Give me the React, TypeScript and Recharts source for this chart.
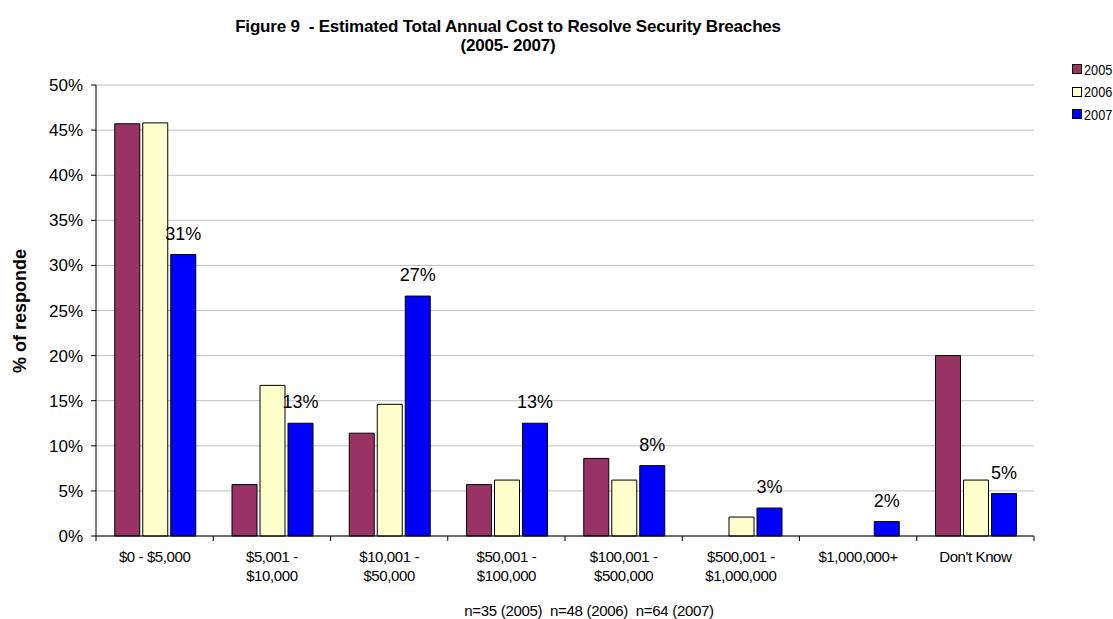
import React from 'react';
import { Bar, BarChart, CartesianGrid, LabelList, XAxis, YAxis } from 'recharts';

const categories = [
  '$0 - $5,000',
  '$5,001 -\n$10,000',
  '$10,001 -\n$50,000',
  '$50,001 -\n$100,000',
  '$100,001 -\n$500,000',
  '$500,001 -\n$1,000,000',
  '$1,000,000+',
  "Don't Know",
];
const values2005 = [45.7, 5.7, 11.4, 5.7, 8.6, 0, 0, 20.0];
const values2006 = [45.8, 16.7, 14.6, 6.2, 6.2, 2.1, 0, 6.2];
const values2007 = [31.2, 12.5, 26.6, 12.5, 7.8, 3.1, 1.6, 4.7];
const yTicks = [0, 5, 10, 15, 20, 25, 30, 35, 40, 45, 50];

const seriesColors = { '2005': '#993366', '2006': '#FFFFCC', '2007': '#0000FF' };

const data = categories.map((name, i) => ({
  name,
  y2005: values2005[i],
  y2006: values2006[i],
  y2007: values2007[i],
}));

const FONT = '"Liberation Sans", Arial, sans-serif';
const WIDTH = 1113;
const HEIGHT = 619;
const PLOT_LEFT = 96;
const PLOT_RIGHT = 1034;
const PLOT_TOP = 85;
const PLOT_BOTTOM = 536;
const XAXIS_H = 50;
const BAND = (PLOT_RIGHT - PLOT_LEFT) / categories.length;

const XTick = (props: any) => {
  const { x, y, payload, index } = props;
  const lines = String(payload.value).split('\n');
  return (
    <g>
      <line x1={x - BAND / 2} x2={x - BAND / 2} y1={y} y2={y + 5} stroke="#000" />
      {index === categories.length - 1 && (
        <line x1={x + BAND / 2} x2={x + BAND / 2} y1={y} y2={y + 5} stroke="#000" />
      )}
      {lines.map((l, i) => (
        <text
          key={i}
          x={x}
          y={y + 26 + i * 19}
          textAnchor="middle"
          fontSize={15}
          fontFamily={FONT}
          letterSpacing={-0.4}
          fill="#000"
        >
          {l}
        </text>
      ))}
    </g>
  );
};

const LegendBox = () => (
  <div
    style={{
      position: 'absolute',
      left: 1072,
      top: 58,
      width: 41,
      whiteSpace: 'nowrap',
      fontFamily: FONT,
      fontSize: 15,
      color: '#000',
    }}
  >
    {(['2005', '2006', '2007'] as const).map((k) => (
      <div key={k} style={{ display: 'flex', alignItems: 'center', height: 22.5 }}>
        <span
          style={{
            flex: 'none',
            width: 8,
            height: 8,
            background: seriesColors[k],
            border: '1px solid #000',
            marginRight: 2,
          }}
        />
        <span style={{ display: 'inline-block', transform: 'scaleX(0.85)', transformOrigin: 'left center' }}>{k}</span>
      </div>
    ))}
  </div>
);

export default function App() {
  return (
    <div style={{ position: 'absolute', left: 0, top: 0, width: WIDTH, height: HEIGHT, background: '#fff', overflow: 'hidden' }}>
      <BarChart
        width={WIDTH}
        height={HEIGHT}
        data={data}
        margin={{ top: PLOT_TOP, right: WIDTH - PLOT_RIGHT, bottom: HEIGHT - PLOT_BOTTOM - XAXIS_H, left: 0 }}
        barCategoryGap="16%"
        barGap={3}
        style={{ position: 'absolute', left: 0, top: 0 }}
      >
        <CartesianGrid vertical={false} stroke="#c0c0c0" />
        <XAxis
          dataKey="name"
          interval={0}
          tick={<XTick />}
          tickLine={false}
          tickMargin={0}
          tickSize={0}
          height={XAXIS_H}
          axisLine={{ stroke: '#000' }}
        />
        <YAxis
          width={PLOT_LEFT}
          domain={[0, 50]}
          ticks={yTicks}
          interval={0}
          tickFormatter={(v) => `${v}%`}
          tick={{ fontSize: 17, fontFamily: FONT, fill: '#000' }}
          tickSize={5}
          tickMargin={8}
          axisLine={{ stroke: '#000' }}
          tickLine={{ stroke: '#000' }}
        />
        <Bar dataKey="y2005" name="2005" fill={seriesColors['2005']} stroke="#000" strokeWidth={1} isAnimationActive={false} />
        <Bar dataKey="y2006" name="2006" fill={seriesColors['2006']} stroke="#000" strokeWidth={1} isAnimationActive={false} />
        <Bar dataKey="y2007" name="2007" fill={seriesColors['2007']} stroke="#000" strokeWidth={1} isAnimationActive={false}>
          <LabelList
            dataKey="y2007"
            position="top"
            offset={15}
            formatter={(v: any) => `${Math.round(Number(v))}%`}
            style={{ fontSize: 18, fontFamily: FONT, fill: '#000' }}
          />
        </Bar>
      </BarChart>
      <div
        style={{
          position: 'absolute',
          left: 0,
          width: 1016,
          top: 17,
          textAlign: 'center',
          fontFamily: FONT,
          fontWeight: 'bold',
          fontSize: 17,
          letterSpacing: -0.2,
          lineHeight: '19px',
        }}
      >
        Figure 9&nbsp; - Estimated Total Annual Cost to Resolve Security Breaches
        <br />
        (2005- 2007)
      </div>
      <div
        style={{
          position: 'absolute',
          left: 20,
          top: 311,
          transform: 'translate(-50%, -50%) rotate(-90deg)',
          whiteSpace: 'nowrap',
          fontFamily: FONT,
          fontWeight: 'bold',
          fontSize: 18,
        }}
      >
        % of responde
      </div>
      <div
        style={{
          position: 'absolute',
          left: 0,
          width: 1178,
          top: 602,
          textAlign: 'center',
          fontFamily: FONT,
          fontSize: 15,
          letterSpacing: -0.3,
        }}
      >
        n=35 (2005)&nbsp; n=48 (2006)&nbsp; n=64 (2007)
      </div>
      <LegendBox />
    </div>
  );
}
